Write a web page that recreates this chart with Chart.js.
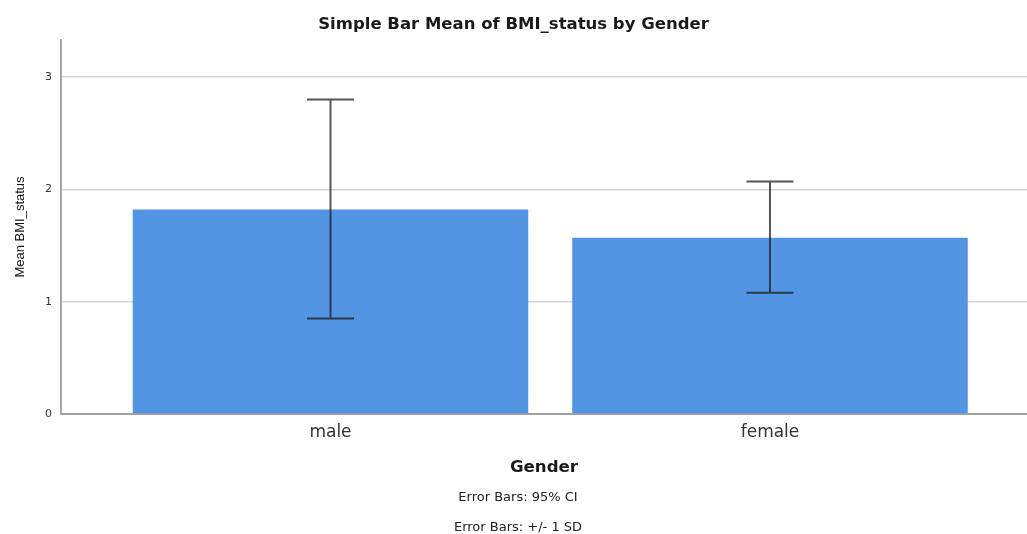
<!DOCTYPE html>
<html>
<head>
<meta charset="utf-8">
<script src="https://cdn.jsdelivr.net/npm/chart.js@4"></script>
<style>
  html, body { margin: 0; padding: 0; background: #ffffff; }
  #wrap { width: 1027px; height: 534px; }
</style>
</head>
<body>
<div id="wrap"><canvas id="c" width="1027" height="534"></canvas></div>
<script>
// ---- data ----
const categories = ['male', 'female'];
const means = [1.82, 1.57];
const errLow = [0.85, 1.08];
const errHigh = [2.80, 2.07];
const yTickValues = [0, 1, 2, 3];
const titleText = 'Simple Bar Mean of BMI_status by Gender';
const yTitle = 'Mean BMI_status';
const xTitle = 'Gender';
const footerLines = ['Error Bars: 95% CI', 'Error Bars: +/- 1 SD'];

const errorBarPlugin = {
  id: 'errorBars',
  afterDatasetsDraw(chart) {
    const ctx = chart.ctx;
    const xs = chart.scales.x, ys = chart.scales.y;
    ctx.save();
    ctx.strokeStyle = 'rgba(30,30,30,0.75)';
    ctx.lineWidth = 2;
    for (let i = 0; i < categories.length; i++) {
      const x = xs.getPixelForValue(i + 1);
      const yHi = ys.getPixelForValue(errHigh[i]);
      const yLo = ys.getPixelForValue(errLow[i]);
      const half = 23.5;
      ctx.beginPath();
      ctx.moveTo(x, yHi); ctx.lineTo(x, yLo);
      ctx.moveTo(x - half, yHi); ctx.lineTo(x + half, yHi);
      ctx.moveTo(x - half, yLo); ctx.lineTo(x + half, yLo);
      ctx.stroke();
    }
    ctx.restore();
  }
};

const footerPlugin = {
  id: 'footerText',
  afterDraw(chart) {
    const ctx = chart.ctx;
    ctx.save();
    ctx.fillStyle = '#222222';
    ctx.font = '13px "DejaVu Sans", sans-serif';
    ctx.textAlign = 'center';
    ctx.textBaseline = 'middle';
    const cx = 518;
    footerLines.forEach((t, i) => ctx.fillText(t, cx, 498 + i * 30));
    ctx.restore();
  }
};

new Chart(document.getElementById('c'), {
  type: 'bar',
  data: {
    datasets: [{
      data: means.map((v, i) => ({ x: i + 1, y: v })),
      backgroundColor: '#5394e3',
      borderWidth: 0,
      barPercentage: 0.9,
      categoryPercentage: 1.0
    }]
  },
  options: {
    responsive: false,
    animation: false,
    devicePixelRatio: 1,
    layout: { padding: { left: 0, right: 0, top: 0, bottom: 56 } },
    plugins: {
      legend: { display: false },
      tooltip: { enabled: false },
      title: {
        display: true,
        text: titleText,
        color: '#1a1a1a',
        font: { family: '"DejaVu Sans", sans-serif', size: 16.5, weight: 'bold' },
        padding: { top: 15, bottom: 5.2 }
      }
    },
    scales: {
      x: {
        type: 'linear',
        offset: false,
        min: 0.3868,
        max: 2.5848,
        afterBuildTicks: (axis) => { axis.ticks = categories.map((c, i) => ({ value: i + 1 })); },
        grid: { display: false, drawTicks: false },
        border: { display: true, color: '#a0a0a0', width: 2 },
        ticks: {
          padding: 8,
          color: '#333333',
          font: { family: '"DejaVu Sans", sans-serif', size: 17 },
          callback: (v) => categories[v - 1] !== undefined ? categories[v - 1] : ''
        },
        title: {
          display: true,
          text: xTitle,
          color: '#1a1a1a',
          font: { family: '"DejaVu Sans", sans-serif', size: 16.6, weight: 'bold' },
          padding: { top: 7.7, bottom: 0 }
        }
      },
      y: {
        min: 0,
        max: 3.33,
        afterBuildTicks: (axis) => { axis.ticks = yTickValues.map(v => ({ value: v })); },
        grid: { color: '#d6d6d6', lineWidth: 1.5, drawTicks: false },
        border: { display: true, color: '#a8a8a8', width: 2 },
        ticks: {
          padding: 9,
          color: '#333333',
          font: { family: '"DejaVu Sans", sans-serif', size: 11 }
        },
        title: {
          display: true,
          text: yTitle,
          color: '#111111',
          font: { family: '"Liberation Sans", Arial, sans-serif', size: 13 },
          padding: { top: 12.2, bottom: 8.2 }
        }
      }
    }
  },
  plugins: [errorBarPlugin, footerPlugin]
});
</script>
</body>
</html>
